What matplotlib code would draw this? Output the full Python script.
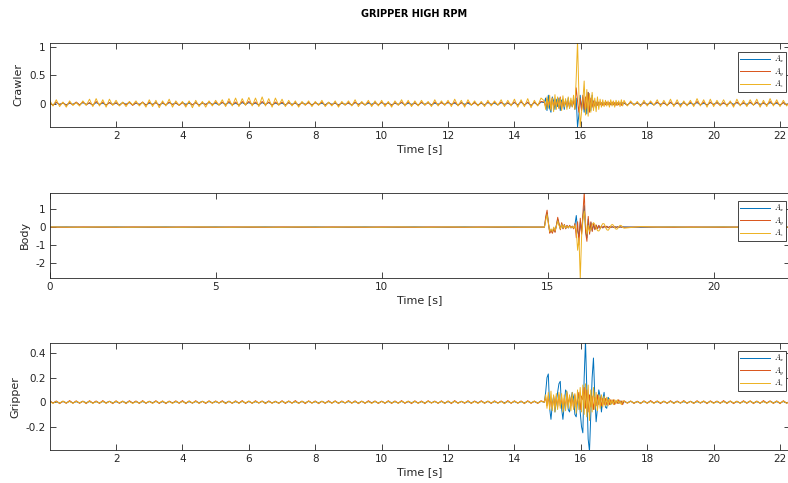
import numpy as np
import matplotlib
matplotlib.use("Agg")
import matplotlib.pyplot as plt

# time grids (quiet part / burst part / tail)
t_quiet = np.linspace(0, 14.8, 149)
t_burst = np.linspace(14.9, 17.26, 60)
t_tail = np.linspace(17.3, 22.3, 51)
t_body_quiet = np.linspace(0, 14.5, 30)
t_body_tail = np.linspace(17.3, 22.3, 11)

# ---------------- Crawler ----------------
crawler_ax_quiet = [
    0.01, -0.02, 0.02, -0.01, 0.01, -0.02, 0.01, -0.01, 0.02, -0.02,
    0.02, -0.01, 0.01, -0.02, 0.02, -0.01, 0.01, -0.02, 0.02, -0.01,
    0.01, -0.02, 0.02, -0.01, 0.02, -0.02, 0.01, -0.01, 0.02, -0.02,
    0.01, -0.01, 0.02, -0.02, 0.01, -0.02, 0.02, -0.01, 0.01, -0.02,
    0.02, -0.01, 0.01, -0.02, 0.02, -0.02, 0.01, -0.01, 0.02, -0.01,
    0.01, -0.02, 0.02, -0.01, 0.02, -0.02, 0.01, -0.02, 0.02, -0.01,
    0.02, -0.01, 0.01, -0.02, 0.02, -0.01, 0.02, -0.02, 0.01, -0.01,
    0.01, -0.02, 0.02, -0.01, 0.01, -0.02, 0.02, -0.01, 0.02, -0.02,
    0.02, -0.01, 0.01, -0.02, 0.02, -0.01, 0.01, -0.02, 0.01, -0.01,
    0.01, -0.02, 0.02, -0.01, 0.02, -0.02, 0.01, -0.01, 0.02, -0.02,
    0.02, -0.01, 0.01, -0.02, 0.01, -0.01, 0.02, -0.02, 0.01, -0.01,
    0.01, -0.02, 0.02, -0.01, 0.02, -0.02, 0.01, -0.01, 0.02, -0.01,
    0.02, -0.01, 0.01, -0.02, 0.02, -0.01, 0.01, -0.02, 0.02, -0.02,
    0.01, -0.02, 0.02, -0.01, 0.01, -0.02, 0.02, -0.01, 0.01, -0.02,
    0.02, -0.02, 0.03, -0.02, 0.02, -0.03, 0.02, -0.02, 0.03,
]
crawler_ay_quiet = [
    0.02, -0.03, 0.03, -0.02, 0.02, -0.03, 0.02, -0.02, 0.03, -0.02,
    0.03, -0.02, 0.02, -0.03, 0.04, -0.02, 0.03, -0.03, 0.02, -0.02,
    0.02, -0.03, 0.02, -0.02, 0.03, -0.03, 0.02, -0.02, 0.03, -0.03,
    0.03, -0.02, 0.02, -0.03, 0.02, -0.02, 0.03, -0.02, 0.02, -0.03,
    0.02, -0.03, 0.03, -0.02, 0.02, -0.03, 0.02, -0.02, 0.03, -0.02,
    0.03, -0.02, 0.03, -0.03, 0.04, -0.02, 0.03, -0.03, 0.04, -0.02,
    0.04, -0.02, 0.03, -0.03, 0.04, -0.02, 0.03, -0.03, 0.03, -0.02,
    0.03, -0.03, 0.02, -0.02, 0.02, -0.03, 0.02, -0.02, 0.02, -0.03,
    0.02, -0.02, 0.03, -0.03, 0.02, -0.02, 0.02, -0.03, 0.02, -0.02,
    0.02, -0.03, 0.03, -0.02, 0.02, -0.02, 0.03, -0.03, 0.02, -0.02,
    0.03, -0.02, 0.02, -0.03, 0.02, -0.02, 0.03, -0.02, 0.03, -0.03,
    0.02, -0.03, 0.03, -0.02, 0.02, -0.03, 0.03, -0.02, 0.02, -0.02,
    0.03, -0.02, 0.03, -0.03, 0.02, -0.03, 0.03, -0.02, 0.02, -0.03,
    0.02, -0.03, 0.03, -0.02, 0.03, -0.02, 0.03, -0.03, 0.02, -0.02,
    0.03, -0.03, 0.04, -0.03, 0.03, -0.04, 0.03, -0.03, 0.04,
]
crawler_az_quiet = [
    0.06, -0.04, 0.07, -0.05, 0.03, -0.06, 0.05, -0.03, 0.02, -0.04,
    0.05, -0.03, 0.08, -0.05, 0.09, -0.04, 0.07, -0.06, 0.08, -0.03,
    0.06, -0.04, 0.03, -0.05, 0.04, -0.02, 0.05, -0.04, 0.03, -0.06,
    0.07, -0.05, 0.06, -0.07, 0.05, -0.04, 0.08, -0.06, 0.05, -0.03,
    0.04, -0.06, 0.05, -0.07, 0.06, -0.05, 0.04, -0.06, 0.05, -0.04,
    0.06, -0.03, 0.07, -0.05, 0.09, -0.04, 0.10, -0.05, 0.09, -0.03,
    0.11, -0.04, 0.10, -0.05, 0.12, -0.04, 0.09, -0.06, 0.10, -0.03,
    0.08, -0.05, 0.06, -0.04, 0.05, -0.06, 0.04, -0.03, 0.05, -0.05,
    0.04, -0.03, 0.06, -0.05, 0.03, -0.04, 0.05, -0.06, 0.04, -0.03,
    0.05, -0.04, 0.07, -0.05, 0.04, -0.03, 0.06, -0.05, 0.05, -0.04,
    0.06, -0.05, 0.04, -0.06, 0.05, -0.03, 0.07, -0.04, 0.06, -0.05,
    0.05, -0.04, 0.06, -0.03, 0.04, -0.05, 0.07, -0.04, 0.05, -0.03,
    0.06, -0.05, 0.08, -0.04, 0.06, -0.06, 0.07, -0.03, 0.05, -0.04,
    0.04, -0.05, 0.06, -0.04, 0.05, -0.03, 0.07, -0.05, 0.06, -0.04,
    0.08, -0.06, 0.07, -0.05, 0.09, -0.07, 0.06, -0.04, 0.10,
]
crawler_ax_burst = [
    0.02, 0.10, -0.12, 0.15, -0.08, -0.15, 0.12, 0.05, -0.10, 0.08,
    -0.05, 0.10, -0.12, 0.06, 0.08, -0.10, 0.05, -0.06, 0.10, -0.08,
    0.06, -0.05, 0.08, -0.10, 0.10, -0.41, -0.20, 0.15, -0.10, 0.12,
    -0.15, 0.10, -0.18, 0.20, 0.05, -0.12, 0.15, -0.08, 0.05, -0.06,
    0.04, -0.03, 0.03, -0.02, 0.02, -0.02, 0.02, -0.01, 0.02, -0.02,
    0.01, -0.02, 0.02, -0.01, 0.02, -0.02, 0.01, -0.01, 0.02, -0.01,
]
crawler_ay_burst = [
    0.03, -0.06, 0.08, -0.05, 0.06, -0.08, 0.10, -0.06, 0.05, -0.04,
    0.06, -0.08, 0.12, -0.10, 0.05, -0.04, 0.06, -0.05, 0.04, -0.06,
    0.05, -0.04, 0.06, -0.08, 0.28, 0.05, -0.15, 0.10, -0.12, 0.15,
    -0.10, 0.12, -0.08, 0.20, -0.15, 0.10, -0.06, 0.05, -0.04, 0.03,
    -0.03, 0.03, -0.02, 0.02, -0.03, 0.02, -0.02, 0.03, -0.02, 0.02,
    -0.02, 0.03, -0.02, 0.02, -0.03, 0.02, -0.02, 0.02, -0.03, 0.02,
]
crawler_az_burst = [
    0.05, -0.10, 0.12, -0.08, 0.15, -0.12, 0.10, -0.14, 0.16, -0.10,
    0.12, -0.08, 0.10, -0.12, 0.14, -0.06, 0.09, -0.10, 0.12, -0.08,
    0.10, -0.06, 0.15, -0.10, 0.45, 1.10, 0.20, -0.40, -0.15, 0.05,
    0.40, -0.20, 0.25, -0.22, 0.18, -0.15, 0.20, -0.12, 0.10, -0.14,
    0.12, -0.10, 0.08, -0.06, 0.07, -0.05, 0.06, -0.04, 0.05, -0.06,
    0.07, -0.04, 0.05, -0.06, 0.06, -0.03, 0.05, -0.05, 0.07, -0.04,
]
crawler_ax_tail = [
    0.01, -0.02, 0.02, -0.01, 0.01, -0.02, 0.02, -0.01, 0.01, -0.02,
    0.02, -0.01, 0.01, -0.02, 0.02, -0.02, 0.01, -0.01, 0.02, -0.02,
    0.01, -0.01, 0.02, -0.02, 0.01, -0.02, 0.02, -0.01, 0.02, -0.01,
    0.01, -0.02, 0.02, -0.01, 0.02, -0.02, 0.01, -0.01, 0.02, -0.02,
    0.02, -0.01, 0.01, -0.02, 0.02, -0.01, 0.01, -0.02, 0.02, -0.01, 0.01,
]
crawler_ay_tail = [
    0.02, -0.03, 0.03, -0.02, 0.02, -0.03, 0.02, -0.02, 0.03, -0.02,
    0.03, -0.02, 0.02, -0.03, 0.03, -0.02, 0.02, -0.03, 0.02, -0.02,
    0.03, -0.03, 0.04, -0.02, 0.03, -0.03, 0.03, -0.02, 0.02, -0.03,
    0.02, -0.02, 0.03, -0.03, 0.03, -0.02, 0.02, -0.03, 0.03, -0.02,
    0.03, -0.03, 0.02, -0.02, 0.04, -0.02, 0.03, -0.03, 0.02, -0.02, 0.02,
]
crawler_az_tail = [
    0.06, -0.04, 0.05, -0.03, 0.04, -0.05, 0.06, -0.04, 0.05, -0.03,
    0.07, -0.05, 0.06, -0.04, 0.08, -0.05, 0.07, -0.06, 0.05, -0.04,
    0.06, -0.05, 0.09, -0.04, 0.07, -0.06, 0.08, -0.05, 0.06, -0.04,
    0.07, -0.05, 0.05, -0.06, 0.08, -0.04, 0.06, -0.05, 0.07, -0.03,
    0.08, -0.06, 0.06, -0.05, 0.09, -0.04, 0.07, -0.05, 0.06, -0.04, 0.05,
]

# ---------------- Body ----------------
body_ax_quiet = [
    0.0, 0.01, -0.01, 0.0, 0.01, -0.01, 0.0, 0.01, -0.01, 0.0,
    0.01, -0.01, 0.0, 0.01, -0.01, 0.0, 0.01, -0.01, 0.0, 0.01,
    -0.01, 0.0, 0.01, -0.01, 0.0, 0.01, -0.01, 0.0, 0.01, 0.0,
]
body_ay_quiet = [
    0.0, -0.01, 0.01, 0.0, -0.01, 0.01, 0.0, -0.01, 0.01, 0.0,
    -0.01, 0.01, 0.0, -0.01, 0.01, 0.0, -0.01, 0.01, 0.0, -0.01,
    0.01, 0.0, -0.01, 0.01, 0.0, -0.01, 0.01, 0.0, -0.01, 0.0,
]
body_az_quiet = [
    0.01, 0.0, -0.01, 0.01, 0.0, -0.01, 0.01, 0.0, -0.01, 0.01,
    0.0, -0.01, 0.01, 0.0, -0.01, 0.01, 0.0, -0.01, 0.01, 0.0,
    -0.01, 0.01, 0.0, -0.01, 0.01, 0.0, -0.01, 0.01, 0.0, 0.0,
]
body_ax_burst = [
    0.0, 0.50, 0.80, 0.25, -0.30, -0.15, -0.30, -0.05, -0.25, 0.10,
    0.45, 0.15, -0.10, 0.20, -0.08, 0.12, -0.08, 0.08, -0.04, 0.08,
    -0.04, 0.05, -0.08, 0.15, 0.65, -0.20, -0.50, 0.30, -0.30, 0.60,
    1.20, -0.20, -0.60, 0.45, -0.30, 0.25, -0.20, 0.15, -0.12, 0.10,
    -0.08, 0.08, -0.06, 0.05, -0.04, 0.05, -0.03, 0.04, -0.03, 0.02,
    -0.02, 0.02, -0.02, 0.02, -0.01, 0.02, -0.01, 0.01, -0.01, 0.01,
]
body_ay_burst = [
    0.0, 0.60, 0.95, 0.20, -0.35, -0.20, -0.35, -0.10, -0.30, 0.10,
    0.55, 0.20, -0.15, 0.25, -0.10, 0.15, -0.10, 0.10, -0.05, 0.10,
    -0.05, 0.05, -0.10, 0.20, -0.60, 0.30, -1.00, 0.50, -0.40, 0.80,
    2.00, -0.30, -0.80, 0.60, -0.40, 0.30, -0.25, 0.20, -0.15, 0.12,
    -0.10, 0.10, -0.08, 0.06, -0.05, 0.06, -0.04, 0.05, -0.04, 0.03,
    -0.03, 0.03, -0.02, 0.03, -0.02, 0.02, -0.02, 0.02, -0.01, 0.01,
]
body_az_burst = [
    0.0, 0.40, 0.70, 0.20, -0.25, -0.10, -0.25, 0.0, -0.20, 0.05,
    0.35, 0.10, -0.10, 0.15, -0.05, 0.10, -0.05, 0.05, -0.03, 0.05,
    -0.03, 0.03, -0.05, 0.10, -0.20, -1.30, -0.60, -2.90, -0.50, 0.40,
    0.90, 0.20, -0.40, 0.10, -0.25, -0.10, 0.15, 0.25, 0.15, -0.05,
    -0.20, -0.22, -0.10, 0.08, 0.20, 0.18, 0.02, -0.15, -0.18, -0.08,
    0.08, 0.15, 0.10, -0.05, -0.12, -0.10, 0.02, 0.10, 0.08, -0.02,
]
body_ax_tail = [0.01, -0.01, 0.0, 0.01, -0.01, 0.0, 0.01, -0.01, 0.0, 0.01, 0.0]
body_ay_tail = [-0.01, 0.01, 0.0, -0.01, 0.01, 0.0, -0.01, 0.01, 0.0, -0.01, 0.0]
body_az_tail = [-0.06, 0.03, 0.0, 0.01, -0.01, 0.0, 0.01, -0.01, 0.0, 0.01, 0.0]

# ---------------- Gripper ----------------
gripper_ax_quiet = [
    0.005, -0.005, 0.004, -0.006, 0.005, -0.004, 0.006, -0.005, 0.004, -0.005,
    0.006, -0.004, 0.005, -0.006, 0.004, -0.005, 0.005, -0.004, 0.006, -0.005,
    0.004, -0.006, 0.005, -0.004, 0.006, -0.005, 0.004, -0.005, 0.005, -0.006,
    0.005, -0.004, 0.006, -0.005, 0.004, -0.006, 0.005, -0.005, 0.004, -0.004,
    0.006, -0.005, 0.004, -0.006, 0.005, -0.004, 0.006, -0.005, 0.005, -0.004,
    0.004, -0.005, 0.006, -0.004, 0.005, -0.006, 0.004, -0.005, 0.006, -0.005,
    0.005, -0.006, 0.004, -0.005, 0.006, -0.004, 0.005, -0.005, 0.004, -0.006,
    0.006, -0.004, 0.005, -0.005, 0.004, -0.006, 0.005, -0.004, 0.006, -0.005,
    0.004, -0.005, 0.006, -0.004, 0.005, -0.005, 0.006, -0.006, 0.004, -0.005,
    0.005, -0.004, 0.004, -0.006, 0.006, -0.005, 0.005, -0.004, 0.005, -0.006,
    0.006, -0.005, 0.005, -0.004, 0.004, -0.006, 0.006, -0.005, 0.004, -0.004,
    0.005, -0.006, 0.004, -0.005, 0.006, -0.004, 0.005, -0.006, 0.005, -0.005,
    0.004, -0.005, 0.006, -0.006, 0.005, -0.004, 0.004, -0.005, 0.006, -0.004,
    0.006, -0.004, 0.005, -0.005, 0.004, -0.006, 0.005, -0.004, 0.005, -0.005,
    0.005, -0.006, 0.004, -0.005, 0.006, -0.004, 0.005, -0.005, 0.006,
]
gripper_ay_quiet = [
    0.012, -0.008, 0.010, -0.012, 0.008, -0.010, 0.013, -0.009, 0.011, -0.010,
    0.009, -0.012, 0.012, -0.008, 0.010, -0.011, 0.013, -0.009, 0.008, -0.012,
    0.011, -0.010, 0.009, -0.012, 0.012, -0.008, 0.010, -0.011, 0.013, -0.010,
    0.008, -0.009, 0.012, -0.011, 0.010, -0.012, 0.009, -0.008, 0.011, -0.010,
    0.013, -0.012, 0.010, -0.009, 0.012, -0.010, 0.008, -0.011, 0.011, -0.009,
    0.010, -0.008, 0.012, -0.012, 0.009, -0.010, 0.011, -0.009, 0.013, -0.011,
    0.009, -0.010, 0.012, -0.008, 0.010, -0.012, 0.011, -0.009, 0.008, -0.010,
    0.012, -0.011, 0.010, -0.009, 0.013, -0.010, 0.009, -0.012, 0.011, -0.008,
    0.010, -0.012, 0.008, -0.010, 0.012, -0.009, 0.011, -0.011, 0.010, -0.008,
    0.013, -0.009, 0.011, -0.012, 0.009, -0.010, 0.012, -0.008, 0.010, -0.011,
    0.009, -0.010, 0.012, -0.011, 0.010, -0.009, 0.013, -0.010, 0.008, -0.012,
    0.011, -0.009, 0.010, -0.012, 0.012, -0.008, 0.009, -0.010, 0.011, -0.011,
    0.010, -0.012, 0.013, -0.009, 0.008, -0.010, 0.012, -0.011, 0.010, -0.009,
    0.012, -0.010, 0.009, -0.011, 0.011, -0.008, 0.010, -0.012, 0.013, -0.010,
    0.011, -0.009, 0.010, -0.012, 0.012, -0.010, 0.009, -0.011, 0.012,
]
gripper_az_quiet = [
    0.008, -0.010, 0.006, -0.008, 0.009, -0.007, 0.007, -0.009, 0.008, -0.006,
    0.007, -0.008, 0.009, -0.010, 0.006, -0.007, 0.008, -0.009, 0.007, -0.008,
    0.009, -0.006, 0.008, -0.009, 0.007, -0.010, 0.006, -0.008, 0.009, -0.007,
    0.007, -0.009, 0.008, -0.006, 0.009, -0.008, 0.007, -0.010, 0.008, -0.007,
    0.006, -0.008, 0.009, -0.007, 0.008, -0.009, 0.007, -0.006, 0.009, -0.008,
    0.008, -0.007, 0.006, -0.009, 0.007, -0.008, 0.009, -0.010, 0.008, -0.006,
    0.009, -0.008, 0.007, -0.007, 0.008, -0.009, 0.006, -0.008, 0.007, -0.009,
    0.008, -0.006, 0.009, -0.008, 0.007, -0.010, 0.008, -0.007, 0.009, -0.008,
    0.007, -0.009, 0.008, -0.007, 0.006, -0.008, 0.009, -0.009, 0.007, -0.006,
    0.009, -0.008, 0.007, -0.009, 0.008, -0.007, 0.006, -0.010, 0.008, -0.008,
    0.006, -0.007, 0.009, -0.008, 0.007, -0.009, 0.008, -0.006, 0.009, -0.007,
    0.008, -0.009, 0.006, -0.008, 0.009, -0.007, 0.007, -0.008, 0.008, -0.010,
    0.009, -0.007, 0.008, -0.009, 0.007, -0.006, 0.009, -0.008, 0.006, -0.009,
    0.007, -0.008, 0.009, -0.007, 0.008, -0.009, 0.007, -0.010, 0.008, -0.007,
    0.009, -0.008, 0.007, -0.009, 0.008, -0.007, 0.009, -0.008, 0.007,
]
gripper_ax_burst = [
    0.0, 0.08, 0.20, 0.23, -0.05, -0.14, -0.02, 0.05, -0.08, 0.0,
    0.08, 0.15, 0.17, -0.05, -0.14, -0.02, 0.10, 0.08, -0.06, -0.08,
    0.02, 0.08, 0.04, -0.10, -0.12, 0.02, 0.06, -0.08, -0.20, -0.25,
    0.20, 0.50, 0.10, -0.30, -0.40, -0.10, 0.20, 0.36, 0.05, -0.16,
    -0.05, 0.10, 0.05, -0.08, 0.02, 0.08, -0.04, -0.05, 0.04, 0.02,
    -0.02, 0.01, 0.01, -0.01, 0.01, 0.0, -0.01, 0.01, 0.0, -0.01,
]
gripper_ay_burst = [
    0.0, 0.04, -0.03, 0.05, -0.04, 0.03, -0.05, 0.04, -0.03, 0.05,
    -0.04, 0.06, -0.03, 0.04, -0.05, 0.03, -0.04, 0.07, -0.02, 0.05,
    -0.03, 0.04, -0.05, 0.06, -0.04, 0.03, 0.08, -0.06, 0.05, 0.02,
    0.12, -0.05, 0.10, -0.08, 0.06, -0.04, 0.05, -0.06, 0.04, -0.03,
    0.06, -0.02, 0.04, -0.03, 0.03, -0.02, 0.03, -0.02, 0.02, -0.02,
    0.02, -0.01, 0.02, -0.02, 0.01, -0.01, 0.02, -0.01, 0.01, -0.02,
]
gripper_az_burst = [
    0.0, 0.06, -0.05, 0.08, -0.06, 0.09, -0.07, 0.06, -0.08, 0.07,
    -0.06, 0.08, -0.05, 0.07, -0.08, 0.06, -0.07, 0.09, -0.05, 0.06,
    -0.07, 0.08, -0.06, 0.07, -0.09, 0.10, -0.06, 0.12, -0.08, 0.14,
    -0.10, 0.15, -0.12, 0.14, -0.15, 0.10, -0.08, 0.12, -0.06, 0.08,
    -0.07, 0.06, -0.05, 0.06, -0.04, 0.05, -0.03, 0.04, -0.03, 0.03,
    -0.02, 0.02, -0.02, 0.02, -0.01, 0.02, -0.01, 0.01, -0.02, 0.01,
]
gripper_ax_tail = [
    0.005, -0.004, 0.006, -0.005, 0.004, -0.006, 0.005, -0.004, 0.006, -0.005,
    0.004, -0.005, 0.005, -0.006, 0.006, -0.004, 0.005, -0.005, 0.004, -0.006,
    0.006, -0.005, 0.004, -0.004, 0.005, -0.006, 0.006, -0.005, 0.004, -0.005,
    0.005, -0.004, 0.006, -0.006, 0.004, -0.005, 0.005, -0.004, 0.006, -0.005,
    0.004, -0.006, 0.005, -0.005, 0.006, -0.004, 0.004, -0.005, 0.005, -0.006, 0.005,
]
gripper_ay_tail = [
    0.012, -0.009, 0.010, -0.011, 0.008, -0.012, 0.011, -0.010, 0.013, -0.008,
    0.010, -0.012, 0.009, -0.010, 0.012, -0.011, 0.010, -0.009, 0.013, -0.010,
    0.008, -0.011, 0.012, -0.009, 0.010, -0.012, 0.011, -0.008, 0.009, -0.010,
    0.013, -0.011, 0.010, -0.012, 0.008, -0.009, 0.012, -0.010, 0.011, -0.012,
    0.009, -0.010, 0.013, -0.008, 0.011, -0.011, 0.010, -0.012, 0.012, -0.009, 0.010,
]
gripper_az_tail = [
    0.008, -0.007, 0.009, -0.008, 0.006, -0.009, 0.008, -0.007, 0.007, -0.010,
    0.009, -0.006, 0.008, -0.008, 0.007, -0.009, 0.006, -0.007, 0.009, -0.008,
    0.007, -0.009, 0.008, -0.006, 0.009, -0.008, 0.007, -0.010, 0.008, -0.007,
    0.006, -0.008, 0.009, -0.007, 0.008, -0.009, 0.007, -0.006, 0.009, -0.008,
    0.008, -0.007, 0.006, -0.009, 0.007, -0.008, 0.009, -0.007, 0.008, -0.009, 0.007,
]

labels = ["$A_x$", "$A_y$", "$A_z$"]
colors = ["#0072BD", "#D95319", "#EDB120"]
title = "GRIPPER HIGH RPM"

plt.rcParams["font.family"] = ["DejaVu Sans"]
plt.rcParams["axes.unicode_minus"] = False
plt.rcParams["mathtext.fontset"] = "cm"

fig = plt.figure(figsize=(7.88, 4.83), dpi=100)

W, H = 788, 483


def add_panel(top_px, bottom_px):
    return fig.add_axes([50 / W, 1 - bottom_px / H, 740 / W, (bottom_px - top_px) / H])


ax1 = add_panel(43, 127)
ax2 = add_panel(192.7, 277.7)
ax3 = add_panel(343.3, 450)

t_full = np.concatenate([t_quiet, t_burst, t_tail])
t_body = np.concatenate([t_body_quiet, t_burst, t_body_tail])

crawler = [
    crawler_ax_quiet + crawler_ax_burst + crawler_ax_tail,
    crawler_ay_quiet + crawler_ay_burst + crawler_ay_tail,
    crawler_az_quiet + crawler_az_burst + crawler_az_tail,
]
body = [
    body_ax_quiet + body_ax_burst + body_ax_tail,
    body_ay_quiet + body_ay_burst + body_ay_tail,
    body_az_quiet + body_az_burst + body_az_tail,
]
gripper = [
    gripper_ax_quiet + gripper_ax_burst + gripper_ax_tail,
    gripper_ay_quiet + gripper_ay_burst + gripper_ay_tail,
    gripper_az_quiet + gripper_az_burst + gripper_az_tail,
]

for ax, t, series in [(ax1, t_full, crawler), (ax2, t_body, body), (ax3, t_full, gripper)]:
    for vals, c, lab in zip(series, colors, labels):
        ax.plot(t, vals, color=c, lw=0.7, label=lab)

ax1.set_xlim(0.01, 22.3)
ax1.set_ylim(-0.41, 1.07)
ax1.set_xticks(range(2, 23, 2))
ax1.set_yticks([0, 0.5, 1])
ax1.set_yticklabels(["0", "0.5", "1"])
ax1.set_ylabel("Crawler")

ax2.set_xlim(0, 22.3)
ax2.set_ylim(-2.84, 1.93)
ax2.set_xticks([0, 5, 10, 15, 20])
ax2.set_yticks([-2, -1, 0, 1])
ax2.set_ylabel("Body")

ax3.set_xlim(0.01, 22.3)
ax3.set_ylim(-0.39, 0.48)
ax3.set_xticks(range(2, 23, 2))
ax3.set_yticks([-0.2, 0, 0.2, 0.4])
ax3.set_yticklabels(["-0.2", "0", "0.2", "0.4"])
ax3.set_ylabel("Gripper")

leg_tops = [52, 201, 351]
for ax, ltop in zip([ax1, ax2, ax3], leg_tops):
    ax.set_xlabel("Time [s]", fontsize=8, color="#262626", labelpad=2)
    ax.yaxis.label.set_size(8)
    ax.yaxis.label.set_color("#262626")
    ax.tick_params(direction="in", top=True, right=True, length=4.5, width=0.6,
                   labelsize=7.5, colors="#262626", pad=3)
    for s in ax.spines.values():
        s.set_color("#262626")
        s.set_linewidth(0.6)
    leg = ax.legend(loc="upper right", bbox_to_anchor=(786 / W, 1 - ltop / H),
                    bbox_transform=fig.transFigure, borderaxespad=0, fontsize=5.5,
                    handlelength=4.0, handletextpad=0.4, labelspacing=0.12,
                    borderpad=0.25, fancybox=False, framealpha=1)
    leg.get_frame().set_edgecolor("#262626")
    leg.get_frame().set_linewidth(0.6)

fig.text(414 / W, 1 - 14 / H, title, ha="center", va="center",
         fontsize=7, fontweight="bold", color="black")

fig.savefig("out.png", dpi=100)
